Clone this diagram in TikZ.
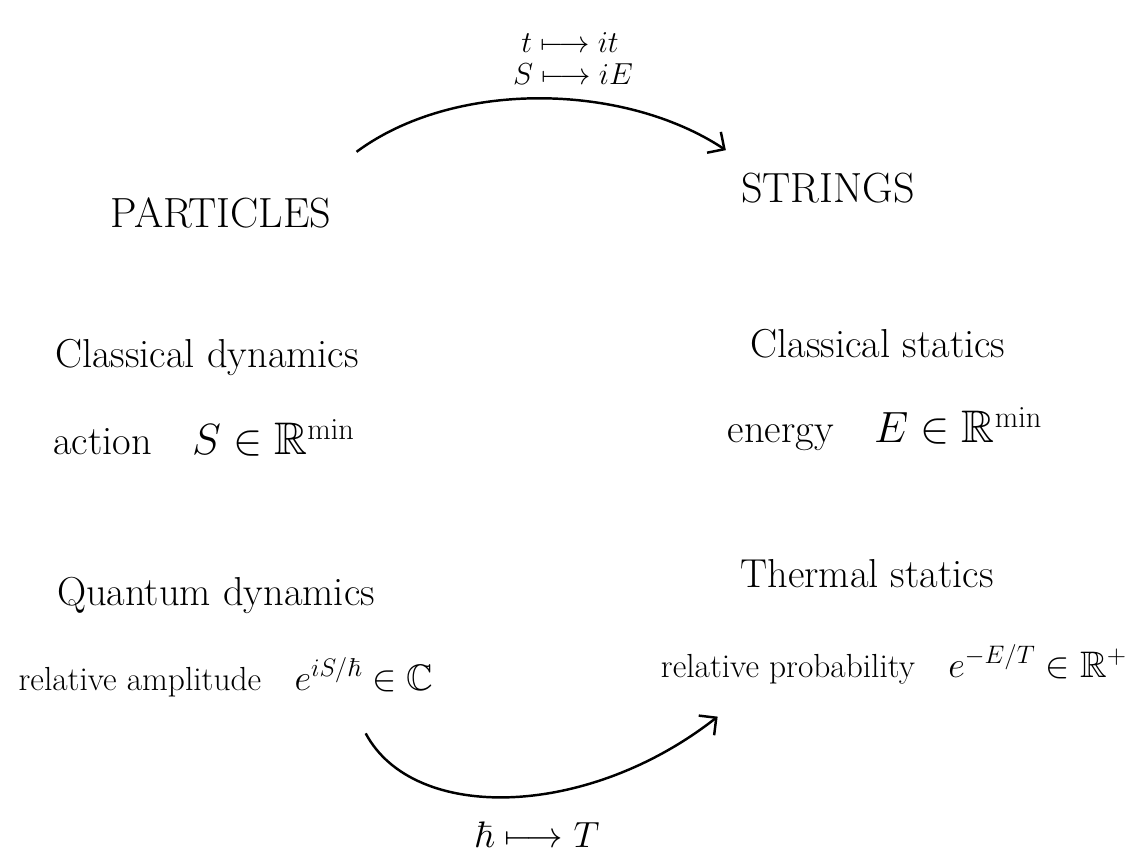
\documentclass[tikz,border=0pt]{standalone}
\usepackage{amssymb}
\usetikzlibrary{arrows.meta}

\newcommand{\eqsize}{\fontsize{26}{30}\selectfont}
\newcommand{\expsize}{\fontsize{21}{25}\selectfont}

\begin{document}
\begin{tikzpicture}[
		every node/.style={inner sep=0pt, anchor=base},
		head/.style={font=\fontsize{24}{28}\selectfont},
		txt/.style={font=\fontsize{23}{27}\selectfont},
		subtxt/.style={font=\fontsize{19}{23}\selectfont},
		maplbl/.style={font=\fontsize{17}{20}\selectfont},
		arrow/.style={-{Straight Barb[length=2.5mm,width=5mm]}, line width=1.4pt}
		]
		
		\useasboundingbox (0,0) rectangle (22.86,17.34);
		
		% the two sides
		\node[head] (part) at (4.42,12.78) {PARTICLES};
		\node[head] (str) at (16.56,13.28) {STRINGS};
		
		\node[txt] (cdyn) at (4.14,9.98) {Classical dynamics};
		\node[txt] (act) at (4.08,8.24) {action\quad{\eqsize$S\in\mathbb{R}^{\mathrm{min}}$}};
		\node[txt] (qdyn) at (4.32,5.24) {Quantum dynamics};
		\node[subtxt] (amp) at (4.52,3.54) {relative amplitude\quad{\expsize$e^{iS/\hbar}\in\mathbb{C}$}};
		
		\node[txt] (cstat) at (17.56,10.18) {Classical statics};
		\node[txt] (ener) at (17.70,8.48) {energy\quad{\eqsize$E\in\mathbb{R}^{\mathrm{min}}$}};
		\node[txt] (tstat) at (17.34,5.60) {Thermal statics};
		\node[subtxt] (prob) at (17.88,3.80) {relative probability\quad{\expsize$e^{-E/T}\in\mathbb{R}^{+}$}};
		
		% substitutions
		\node[maplbl] (tmap) at (11.40,16.28) {$t\longmapsto it$};
		\node[maplbl] (smap) at (11.46,15.64) {$S\longmapsto iE$};
		\node[font=\expsize] (hmap) at (10.74,0.40) {$\hbar\longmapsto T$};
		
		\draw[arrow] ([shift={(0.5,0.92)}]part.north east) .. controls +(1.96,1.45) and +(-2.04,1.35) .. ([shift={(-0.3,0.46)}]str.north west);
		\draw[arrow] ([shift={(-1.36,-0.73)}]amp.south east) .. controls +(0.96,-1.8) and +(-2.6,-2.04) .. ([shift={(1.14,-0.65)}]prob.south west);
		
	\end{tikzpicture}
\end{document}
